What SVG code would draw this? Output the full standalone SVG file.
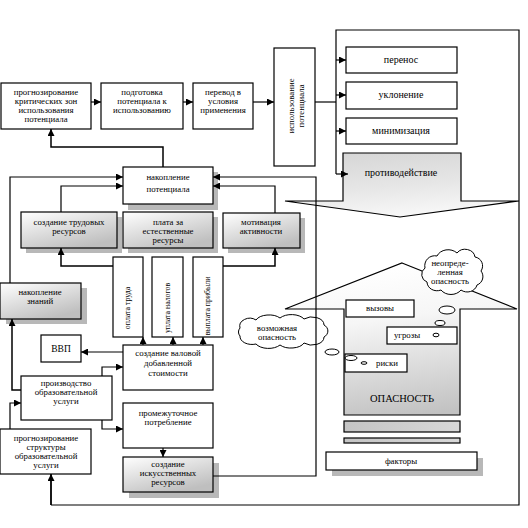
<svg xmlns="http://www.w3.org/2000/svg" width="528" height="528" viewBox="0 0 528 528">
<style>
.b{fill:#fff;stroke:#000;stroke-width:1.2}
.g{fill:url(#gb);stroke:#000;stroke-width:1.2}
.sh{fill:#b8b8b8}
.t{font-family:"Liberation Serif","Times New Roman",serif;font-size:8.8px;text-anchor:middle;fill:#000}
.tr{font-family:"Liberation Serif","Times New Roman",serif;font-size:10px;text-anchor:middle;fill:#000}
.tv{font-family:"Liberation Serif","Times New Roman",serif;font-size:7.8px;text-anchor:middle;fill:#000}
.c{fill:none;stroke:#000;stroke-width:1.2}
.ca{fill:none;stroke:#000;stroke-width:1.2;marker-end:url(#ah)}
.cl{fill:#fff;stroke:#000;stroke-width:1}
</style>
<defs>
<marker id="ah" viewBox="0 0 8 8" refX="8" refY="4" markerWidth="7" markerHeight="7" markerUnits="userSpaceOnUse" orient="auto"><path d="M0,0 L8,4 L0,8 Z" fill="#000"/></marker>
<linearGradient id="gb" x1="0" y1="0" x2="0.6" y2="1"><stop offset="0" stop-color="#ffffff"/><stop offset="1" stop-color="#bfbfbf"/></linearGradient>
<linearGradient id="gp" x1="0" y1="0" x2="0.3" y2="1"><stop offset="0" stop-color="#d4d4d4"/><stop offset="0.6" stop-color="#e6e6e6"/><stop offset="1" stop-color="#f6f6f6"/></linearGradient>
<linearGradient id="gh" gradientUnits="userSpaceOnUse" x1="400" y1="263" x2="420" y2="415"><stop offset="0" stop-color="#ffffff"/><stop offset="0.35" stop-color="#f6f6f6"/><stop offset="1" stop-color="#c2c2c2"/></linearGradient>
<linearGradient id="gbar" x1="0" y1="0" x2="1" y2="0"><stop offset="0" stop-color="#c4c4c4"/><stop offset="1" stop-color="#d8d8d8"/></linearGradient>
</defs>

<!-- right side shapes -->
<g id="protivodeystvie">
<path d="M343,153 H461 V201 H519 L400,217 L285,201 H343 Z" fill="url(#gp)" stroke="#000" stroke-width="1.2"/>
<text class="tr" x="401" y="176">противодействие</text>
</g>
<g id="opasnost">
<path d="M402,263 L517,309 H460 V415 H344 V309 H285 Z" fill="url(#gh)" stroke="#000" stroke-width="1.2"/>
<text class="tr" x="402" y="402" style="font-size:10.5px">ОПАСНОСТЬ</text>
<rect x="344" y="421" width="116" height="11" fill="url(#gbar)" stroke="#000" stroke-width="1.2"/>
<rect x="344" y="438" width="116" height="5" fill="url(#gbar)" stroke="#000" stroke-width="1.2"/>
</g>
<g id="vyzovy"><rect class="b" x="346" y="300" width="68" height="17"/><text class="t" x="380" y="311">вызовы</text></g>
<g id="ugrozy"><rect class="b" x="387" y="327" width="70" height="17"/><text class="t" x="407" y="338">угрозы</text><ellipse cx="436" cy="335" rx="3" ry="1.8" class="cl"/></g>
<g id="riski"><rect class="b" x="345" y="354" width="62" height="18"/><text class="t" x="387" y="366">риски</text><ellipse cx="364" cy="363" rx="3" ry="1.3" class="cl"/></g>
<g id="faktory"><rect class="sh" x="332" y="458" width="151" height="18"/><rect class="b" x="326" y="452" width="151" height="18"/><text class="t" x="401" y="464">факторы</text></g>
<g id="neopr">
<path class="cl" d="M425,268 a10,10 0 0 1 12,-12 a12,10 0 0 1 20,-3 a10,9 0 0 1 18,4 a9,9 0 0 1 6,14 a9,9 0 0 1 -4,14 a10,9 0 0 1 -16,5 a12,10 0 0 1 -20,0 a10,9 0 0 1 -14,-8 a8,8 0 0 1 -2,-14 z"/>
<ellipse class="cl" cx="447" cy="310" rx="8" ry="4"/>
<ellipse class="cl" cx="440" cy="323" rx="5" ry="2.5"/>
<text class="t" x="450" y="266">неопреде-</text><text class="t" x="450" y="275">ленная</text><text class="t" x="450" y="284">опасность</text>
</g>
<g id="vozm">
<path class="cl" d="M240,328 a10,8 0 0 1 16,-8 a14,8 0 0 1 24,-2 a14,8 0 0 1 24,1 a12,8 0 0 1 20,6 a8,7 0 0 1 0,12 a12,8 0 0 1 -20,6 a14,8 0 0 1 -24,2 a14,8 0 0 1 -24,-1 a12,8 0 0 1 -16,-8 a6,6 0 0 1 0,-8 z"/>
<ellipse class="cl" cx="332" cy="352" rx="7" ry="3"/>
<ellipse class="cl" cx="351" cy="358" rx="6" ry="2.5"/>
<text class="t" x="277" y="331">возможная</text><text class="t" x="277" y="340">опасность</text>
</g>

<!-- top row -->
<g id="prog_krit"><rect class="b" x="1" y="83" width="90" height="46"/>
<text class="t" x="46" y="95">прогнозирование</text><text class="t" x="46" y="104">критических зон</text><text class="t" x="46" y="113">использования</text><text class="t" x="46" y="122">потенциала</text></g>
<g id="podgotovka"><rect class="b" x="101" y="83" width="82" height="46"/>
<text class="t" x="142" y="95">подготовка</text><text class="t" x="142" y="104">потенциала к</text><text class="t" x="142" y="113">использованию</text></g>
<g id="perevod"><rect class="b" x="193" y="83" width="60" height="46"/>
<text class="t" x="223" y="95">перевод в</text><text class="t" x="223" y="104">условия</text><text class="t" x="223" y="113">применения</text></g>
<g id="ispolzovanie"><rect class="b" x="274" y="48" width="41" height="118"/>
<text class="t" transform="translate(294,106) rotate(-90)">использование</text><text class="t" transform="translate(304,106) rotate(-90)">потенциала</text></g>
<g id="perenos"><rect class="b" x="346" y="47" width="111" height="26"/><text class="tr" x="401" y="63">перенос</text></g>
<g id="uklonenie"><rect class="b" x="346" y="82" width="111" height="27"/><text class="tr" x="401" y="98">уклонение</text></g>
<g id="minimizaciya"><rect class="b" x="346" y="118" width="111" height="26"/><text class="tr" x="401" y="134">минимизация</text></g>

<!-- left middle -->
<g id="nakoplenie_pot"><rect class="sh" x="128" y="172" width="90" height="38"/><rect class="b" x="123" y="167" width="90" height="37"/>
<text class="t" x="168" y="180">накопление</text><text class="t" x="168" y="192">потенциала</text></g>
<g id="trud_res"><rect class="sh" x="26" y="217" width="96" height="36"/><rect class="g" x="21" y="212" width="96" height="36"/>
<text class="t" x="69" y="225">создание трудовых</text><text class="t" x="69" y="234">ресурсов</text></g>
<g id="plata"><rect class="sh" x="128" y="217" width="90" height="36"/><rect class="g" x="123" y="212" width="90" height="36"/>
<text class="t" x="168" y="225">плата за</text><text class="t" x="168" y="234">естественные</text><text class="t" x="168" y="243">ресурсы</text></g>
<g id="motivaciya"><rect class="sh" x="228" y="218" width="77" height="35"/><rect class="g" x="223" y="213" width="77" height="35"/>
<text class="t" x="261" y="225">мотивация</text><text class="t" x="261" y="234">активности</text></g>
<g id="oplata"><rect class="b" x="113" y="257" width="30" height="80"/><text class="tv" transform="translate(130,308) rotate(-90)">оплата труда</text></g>
<g id="uplata"><rect class="b" x="152" y="257" width="31" height="80"/><text class="tv" transform="translate(170,308) rotate(-90)">уплата налогов</text></g>
<g id="vyplata"><rect class="b" x="193" y="257" width="30" height="80"/><text class="tv" transform="translate(210,306) rotate(-90)">выплата прибыли</text></g>
<g id="nakoplenie_zn"><rect class="sh" x="6" y="288" width="81" height="36"/><rect class="g" x="0" y="283" width="81" height="36"/>
<text class="t" x="40" y="295">накопление</text><text class="t" x="40" y="304">знаний</text></g>
<g id="vvp"><rect class="b" x="41" y="335" width="40" height="27"/><text class="t" x="61" y="352" style="font-size:9.5px">ВВП</text></g>
<g id="vds"><rect class="b" x="123" y="345" width="90" height="45"/>
<text class="t" x="168" y="356">создание валовой</text><text class="t" x="168" y="366">добавленной</text><text class="t" x="168" y="376">стоимости</text></g>
<g id="proizvodstvo"><rect class="b" x="21" y="376" width="91" height="44"/>
<text class="t" x="66" y="386">производство</text><text class="t" x="66" y="395">образовательной</text><text class="t" x="66" y="404">услуги</text></g>
<g id="promezh"><rect class="b" x="123" y="403" width="90" height="45"/>
<text class="t" x="168" y="416">промежуточное</text><text class="t" x="168" y="425">потребление</text></g>
<g id="iskusstv"><rect class="sh" x="129" y="463" width="90" height="35"/><rect class="g" x="123" y="457" width="90" height="35"/>
<text class="t" x="168" y="467">создание</text><text class="t" x="168" y="476">искусственных</text><text class="t" x="168" y="485">ресурсов</text></g>
<g id="prog_struct"><rect class="b" x="0" y="429" width="91" height="45"/>
<text class="t" x="46" y="441">прогнозирование</text><text class="t" x="46" y="450">структуры</text><text class="t" x="46" y="459">образовательной</text><text class="t" x="46" y="468">услуги</text></g>

<g id="connectors">
<path class="ca" d="M91,102 H101"/>
<path class="ca" d="M183,102 H193"/>
<path class="ca" d="M253,102 H274"/>
<path class="c" d="M315,102 H336"/>
<path class="c" d="M336,174 V30 H519 V505 H51"/>
<path class="ca" d="M51,505 V474" style="stroke-width:1.8"/>
<path class="ca" d="M336,60 H346"/>
<path class="ca" d="M336,95 H346"/>
<path class="ca" d="M336,131 H346"/>
<path class="ca" d="M336,174 H348"/>
<path class="ca" d="M163,167 V147 H51 V129" style="stroke-width:1.5"/>
<path class="ca" d="M10,283 V177 H123"/>
<path class="ca" d="M61,212 V186 H123"/>
<path class="ca" d="M275,213 V186 H213"/>
<path class="ca" d="M213,476 H316 V177 H213"/>
<path class="ca" d="M113,266 H61 V248" style="stroke-width:1.5"/>
<path class="ca" d="M223,266 H275 V248" style="stroke-width:1.5"/>
<path class="ca" d="M143,345 V337"/>
<path class="ca" d="M173,345 V337"/>
<path class="ca" d="M203,345 V337"/>
<path class="ca" d="M123,352 H81"/>
<path class="ca" d="M102,376 V367 H123"/>
<path class="ca" d="M102,420 V429 H123"/>
<path class="ca" d="M163,448 V457"/>
<path class="ca" d="M21,390 H12 V319" style="stroke-width:1.5"/>
<path class="ca" d="M10,429 V403 H21"/>
</g>
</svg>
